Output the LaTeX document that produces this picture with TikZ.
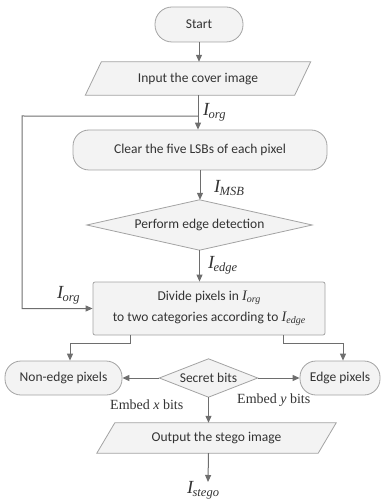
\documentclass[tikz,border=0pt]{standalone}
\usepackage{fontspec}
\setmainfont{Carlito}
\newfontfamily\tmr{Liberation Serif}
\usetikzlibrary{arrows.meta,calc,backgrounds}
\definecolor{boxfill}{HTML}{F3F3F3}
\definecolor{boxline}{HTML}{A3A3A3}
\definecolor{arrline}{HTML}{6E6E6E}
\definecolor{txtc}{HTML}{333333}
\newcommand{\Isub}[1]{{\tmr\itshape I\kern-0.04em\raisebox{-0.4ex}{\fontsize{12.5}{12.5}\selectfont #1}}}
\newcommand{\Iin}[1]{{\tmr\itshape\fontsize{14.5}{14.5}\selectfont I\raisebox{-0.35ex}{\fontsize{10}{10}\selectfont #1}}}
\begin{document}
\begin{tikzpicture}[x=1pt,y=-1pt,
  base/.style={font=\fontsize{13.5}{15}\selectfont, text=txtc, inner sep=0pt},
  roundbox/.style={base, draw=boxline, fill=boxfill, line width=0.8pt, rounded corners=#1},
  outl/.style={draw=boxline, fill=boxfill, line width=0.8pt},
  arr/.style={draw=arrline, line width=1pt, -{Triangle[length=7pt,width=6pt]}},
  lbl/.style={text=txtc, inner sep=0pt, font=\fontsize{18.5}{18.5}\selectfont},
  emb/.style={text=txtc, inner sep=0pt, font=\tmr\fontsize{14}{14}\selectfont}
]
\useasboundingbox (0,0) rectangle (383,502);

% nodes
\node[roundbox=17pt, minimum width=88, minimum height=35] (start) at (199,24.5) {Start};
\node[base, minimum width=209, minimum height=33] (input) at (198,78.5) {Input the cover image};
\node[roundbox=16pt, minimum width=254, minimum height=40] (clear) at (200,150) {Clear the five LSBs of each pixel};
\node[base, minimum width=225, minimum height=50] (detect) at (199.5,225) {Perform edge detection};
\node[roundbox=2pt, minimum width=232, minimum height=53, align=center, font=\fontsize{13.5}{21}\selectfont] (divide) at (209,308.5) {Divide pixels in \Iin{org}\\to two categories according to \Iin{edge}};
\node[roundbox=16pt, minimum width=117, minimum height=34] (nonedge) at (63.5,378) {Non-edge pixels};
\node[base, minimum width=98, minimum height=38] (secret) at (208.5,378) {Secret bits};
\node[roundbox=16pt, minimum width=80, minimum height=34] (edge) at (340,378) {Edge pixels};
\node[base, minimum width=221, minimum height=30] (output) at (216.5,438) {Output the stego image};

% outlines of shaped nodes
\begin{pgfonlayer}{background}
\draw[outl] ($(input.north west)+(8,0)$) -- ($(input.north east)+(8,0)$) -- ($(input.south east)+(-8,0)$) -- ($(input.south west)+(-8,0)$) -- cycle;
\draw[outl] (detect.north) -- (detect.east) -- (detect.south) -- (detect.west) -- cycle;
\draw[outl] (secret.north) -- (secret.east) -- (secret.south) -- (secret.west) -- cycle;
\draw[outl] ($(output.north west)+(9,0)$) -- ($(output.north east)+(9,0)$) -- ($(output.south east)+(-9,0)$) -- ($(output.south west)+(-9,0)$) -- cycle;
\end{pgfonlayer}

% labels
\node[lbl, anchor=west] (lorg1) at (203,112) {\Isub{org}};
\node[lbl, anchor=west] (lmsb) at (214,188) {\Isub{MSB}};
\node[lbl, anchor=west] (ledge) at (208,265) {\Isub{edge}};
\node[lbl, anchor=west] (lorg2) at (57,295) {\Isub{org}};
\node[lbl, anchor=west] (lstego) at (187,490) {\Isub{stego}};
\node[emb, anchor=west] (embx) at (110,405) {Embed \textit{x} bits};
\node[emb, anchor=west] (emby) at (237,400) {Embed \textit{y} bits};

% connectors
\coordinate (j) at ($(input.south)+(0,21)$);
\coordinate (lx) at (22,116);
\coordinate (stegoend) at (208,482);
\draw[arr] (start.south) -- (start.south |- input.north);
\draw[arr] (input.south) -- (input.south |- clear.north);
\draw[arr] (j) -- (lx) |- (divide.west);
\draw[arr] (clear.south) -- (clear.south |- detect.north);
\draw[arr] (detect.south) -- (detect.south |- divide.north);
\draw[arr] ([xshift=-79pt]divide.south) -- ++(0,8) -| ([xshift=6.5pt]nonedge.north);
\draw[arr] ([xshift=74pt]divide.south) -- ++(0,8) -| ([xshift=3pt]edge.north);
\draw[arr] (secret.west) -- (nonedge.east);
\draw[arr] (secret.east) -- (edge.west);
\draw[arr] (secret.south) -- (secret.south |- output.north);
\draw[arr] (output.south -| secret.south) -- (stegoend);
\end{tikzpicture}
\end{document}
